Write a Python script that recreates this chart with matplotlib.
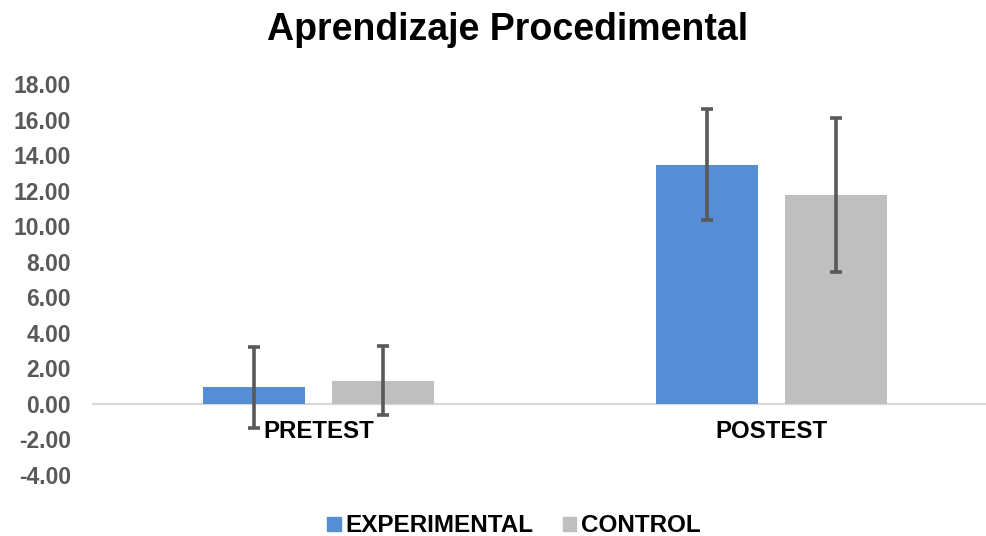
import matplotlib
matplotlib.use("Agg")
import matplotlib.pyplot as plt
from matplotlib.patches import Patch
import numpy as np

# Data
categories = ["PRETEST", "POSTEST"]
series_names = ["EXPERIMENTAL", "CONTROL"]
experimental = [0.95, 13.45]
experimental_err = [2.28, 3.13]
control = [1.30, 11.75]
control_err = [1.94, 4.32]
y_ticks = [-4, -2, 0, 2, 4, 6, 8, 10, 12, 14, 16, 18]

BLUE = "#558ED5"
GRAY = "#BFBFBF"
ERR = "#595959"

plt.rcParams["font.family"] = ["Liberation Sans", "DejaVu Sans"]
plt.rcParams["font.weight"] = "bold"

fig = plt.figure(figsize=(9.87, 5.36), dpi=100)
W, H = 987.0, 536.0
ax = fig.add_axes([92 / W, (H - 475) / H, 906 / W, 391 / H])

x = np.arange(len(categories))
offset = 0.1424
width = 0.225
err_kw = dict(ecolor=ERR, elinewidth=2.6, capsize=4.5, capthick=2.6)

ax.bar(x - offset, experimental, width, color=BLUE, yerr=experimental_err,
       error_kw=err_kw, zorder=2)
ax.bar(x + offset, control, width, color=GRAY, yerr=control_err,
       error_kw=err_kw, zorder=2)

ax.set_xlim(-0.5, 1.5)
ax.set_ylim(-4, 18)
ax.set_yticks(y_ticks)
ax.set_yticklabels(["{:.2f}".format(v) for v in y_ticks], color="#595959",
                   fontsize=16.5, fontweight="bold")
ax.tick_params(axis="y", length=0, pad=15)
ax.set_xticks([])
for s in ax.spines.values():
    s.set_visible(False)
ax.axhline(0, color="#D9D9D9", lw=1.6, zorder=1)

# category labels sit just under the zero line
for i, lab in enumerate(categories):
    ax.annotate(lab, xy=(i, 0), xytext=(0, -16), textcoords="offset pixels",
                ha="center", va="top", fontsize=17.3, fontweight="bold",
                color="black")

fig.text(508 / W, 1 - 30 / H, "Aprendizaje Procedimental", ha="center",
         va="center", fontsize=27, fontweight="bold", color="black")

handles = [Patch(color=BLUE, label=series_names[0]),
           Patch(color=GRAY, label=series_names[1])]
fig.legend(handles=handles, loc="center", bbox_to_anchor=(514 / W, 1 - 526 / H),
           ncol=2, frameon=False, prop={"size": 17.5, "weight": "bold"},
           handlelength=0.55, handleheight=0.55, handletextpad=0.2,
           columnspacing=1.2)

fig.savefig("out.png", dpi=100)
